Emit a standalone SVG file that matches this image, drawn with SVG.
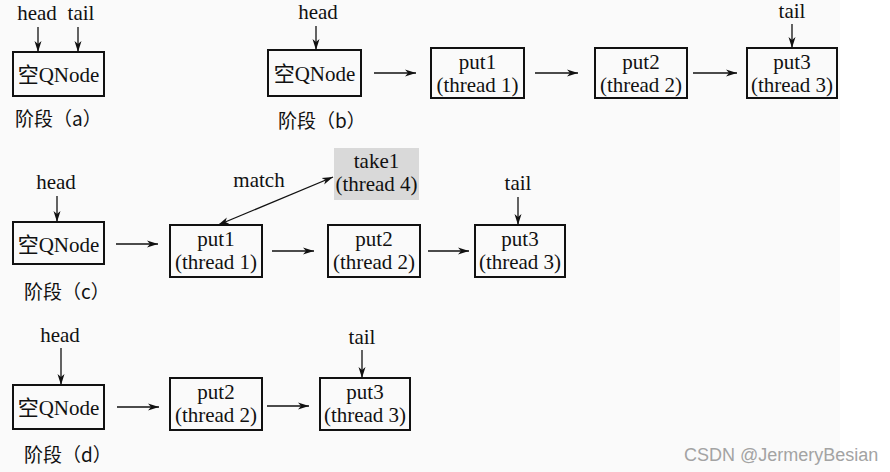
<svg xmlns="http://www.w3.org/2000/svg" width="890" height="472" viewBox="0 0 890 472">
<style>
.t{font-family:"Liberation Serif","Times New Roman",serif;font-size:21px;fill:#111;text-anchor:middle}
.q{font-family:"Liberation Serif","Noto Sans CJK SC",serif;font-size:21px;fill:#111;text-anchor:middle}
.lbl{font-family:"Noto Sans CJK SC","Noto Sans",sans-serif;font-size:19px;fill:#111}
.box{fill:none;stroke:#111;stroke-width:2}
.ar{stroke:#111;stroke-width:1.3;fill:none;marker-end:url(#ah)}
.wm{font-family:"Liberation Sans",Arial,sans-serif;font-size:18px;fill:#a3a3a3}
</style>
<defs>
<marker id="ah" markerUnits="userSpaceOnUse" markerWidth="12" markerHeight="8" refX="11" refY="4" orient="auto">
<path d="M0,0.5 L11,4 L0,7.5 L3,4 Z" fill="#111"/>
</marker>
<marker id="ahs" markerUnits="userSpaceOnUse" markerWidth="12" markerHeight="8" refX="11" refY="4" orient="auto-start-reverse">
<path d="M0,0.5 L11,4 L0,7.5 L3,4 Z" fill="#111"/>
</marker>
</defs>
<rect x="0" y="0" width="890" height="472" fill="#ffffff"/>
<rect x="0" y="0" width="840" height="472" fill="#fafafa"/>

<!-- Stage (a) -->
<g id="a-head"><text class="t" x="37" y="20">head</text></g>
<g id="a-tail"><text class="t" x="81" y="20">tail</text></g>
<g id="a-node"><rect class="box" x="13" y="52" width="91" height="44"/><text class="q" x="58.5" y="82">空QNode</text></g>
<g id="a-label"><text class="lbl" x="15" y="126">阶段（a）</text></g>

<!-- Stage (b) -->
<g id="b-head"><text class="t" x="318" y="19">head</text></g>
<g id="b-node0"><rect class="box" x="268" y="50" width="93" height="46"/><text class="q" x="314.5" y="81">空QNode</text></g>
<g id="b-put1"><rect class="box" x="431" y="48" width="93" height="50"/><text class="t" x="477.5" y="69">put1</text><text class="t" x="477.5" y="92">(thread 1)</text></g>
<g id="b-put2"><rect class="box" x="595" y="48" width="92" height="50"/><text class="t" x="641" y="69">put2</text><text class="t" x="641" y="92">(thread 2)</text></g>
<g id="b-put3"><rect class="box" x="747" y="48" width="90" height="50"/><text class="t" x="792" y="69">put3</text><text class="t" x="792" y="92">(thread 3)</text></g>
<g id="b-tail"><text class="t" x="792" y="18">tail</text></g>
<g id="b-label"><text class="lbl" x="278" y="128">阶段（b）</text></g>

<!-- Stage (c) -->
<g id="c-head"><text class="t" x="56" y="189">head</text></g>
<g id="c-node0"><rect class="box" x="13" y="222" width="91" height="42"/><text class="q" x="58.5" y="252">空QNode</text></g>
<g id="c-put1"><rect class="box" x="170" y="225" width="92" height="52"/><text class="t" x="216" y="246">put1</text><text class="t" x="216" y="269">(thread 1)</text></g>
<g id="c-put2"><rect class="box" x="328" y="225" width="92" height="52"/><text class="t" x="374" y="246">put2</text><text class="t" x="374" y="269">(thread 2)</text></g>
<g id="c-put3"><rect class="box" x="475" y="225" width="90" height="52"/><text class="t" x="520" y="246">put3</text><text class="t" x="520" y="269">(thread 3)</text></g>
<g id="c-take1"><rect x="334" y="148" width="85" height="52" fill="#d9d9d9"/><text class="t" x="376.5" y="168">take1</text><text class="t" x="376.5" y="191">(thread 4)</text></g>
<g id="c-tail"><text class="t" x="518" y="190">tail</text></g>
<g id="c-match"><text class="t" x="259" y="187">match</text></g>
<g id="c-label"><text class="lbl" x="24" y="299">阶段（c）</text></g>

<!-- Stage (d) -->
<g id="d-head"><text class="t" x="60" y="342">head</text></g>
<g id="d-node0"><rect class="box" x="13" y="385" width="91" height="44"/><text class="q" x="58.5" y="415">空QNode</text></g>
<g id="d-put2"><rect class="box" x="170" y="378" width="92" height="52"/><text class="t" x="216" y="399">put2</text><text class="t" x="216" y="422">(thread 2)</text></g>
<g id="d-put3"><rect class="box" x="320" y="378" width="90" height="52"/><text class="t" x="365" y="399">put3</text><text class="t" x="365" y="422">(thread 3)</text></g>
<g id="d-tail"><text class="t" x="362" y="344">tail</text></g>
<g id="d-label"><text class="lbl" x="24" y="462">阶段（d）</text></g>

<g id="connectors">
<line class="ar" x1="38" y1="27" x2="38" y2="52"/>
<line class="ar" x1="78" y1="27" x2="78" y2="52"/>
<line class="ar" x1="316" y1="26" x2="316" y2="50"/>
<line class="ar" x1="374" y1="73" x2="416" y2="73"/>
<line class="ar" x1="535" y1="73" x2="578" y2="73"/>
<line class="ar" x1="693" y1="73" x2="737" y2="73"/>
<line class="ar" x1="792" y1="24" x2="792" y2="48"/>
<line class="ar" x1="57" y1="196" x2="57" y2="222"/>
<line class="ar" x1="116" y1="244" x2="158" y2="244"/>
<line class="ar" x1="272" y1="251" x2="314" y2="251"/>
<line class="ar" x1="428" y1="251" x2="469" y2="251"/>
<line class="ar" x1="518" y1="197" x2="518" y2="225"/>
<line class="ar" x1="218" y1="225" x2="333" y2="177" marker-start="url(#ahs)"/>
<line class="ar" x1="61" y1="348" x2="61" y2="385"/>
<line class="ar" x1="117" y1="407" x2="159" y2="407"/>
<line class="ar" x1="267" y1="406" x2="309" y2="406"/>
<line class="ar" x1="362" y1="350" x2="362" y2="378"/>
</g>

<text class="wm" x="684" y="461">CSDN @JermeryBesian</text>
</svg>
